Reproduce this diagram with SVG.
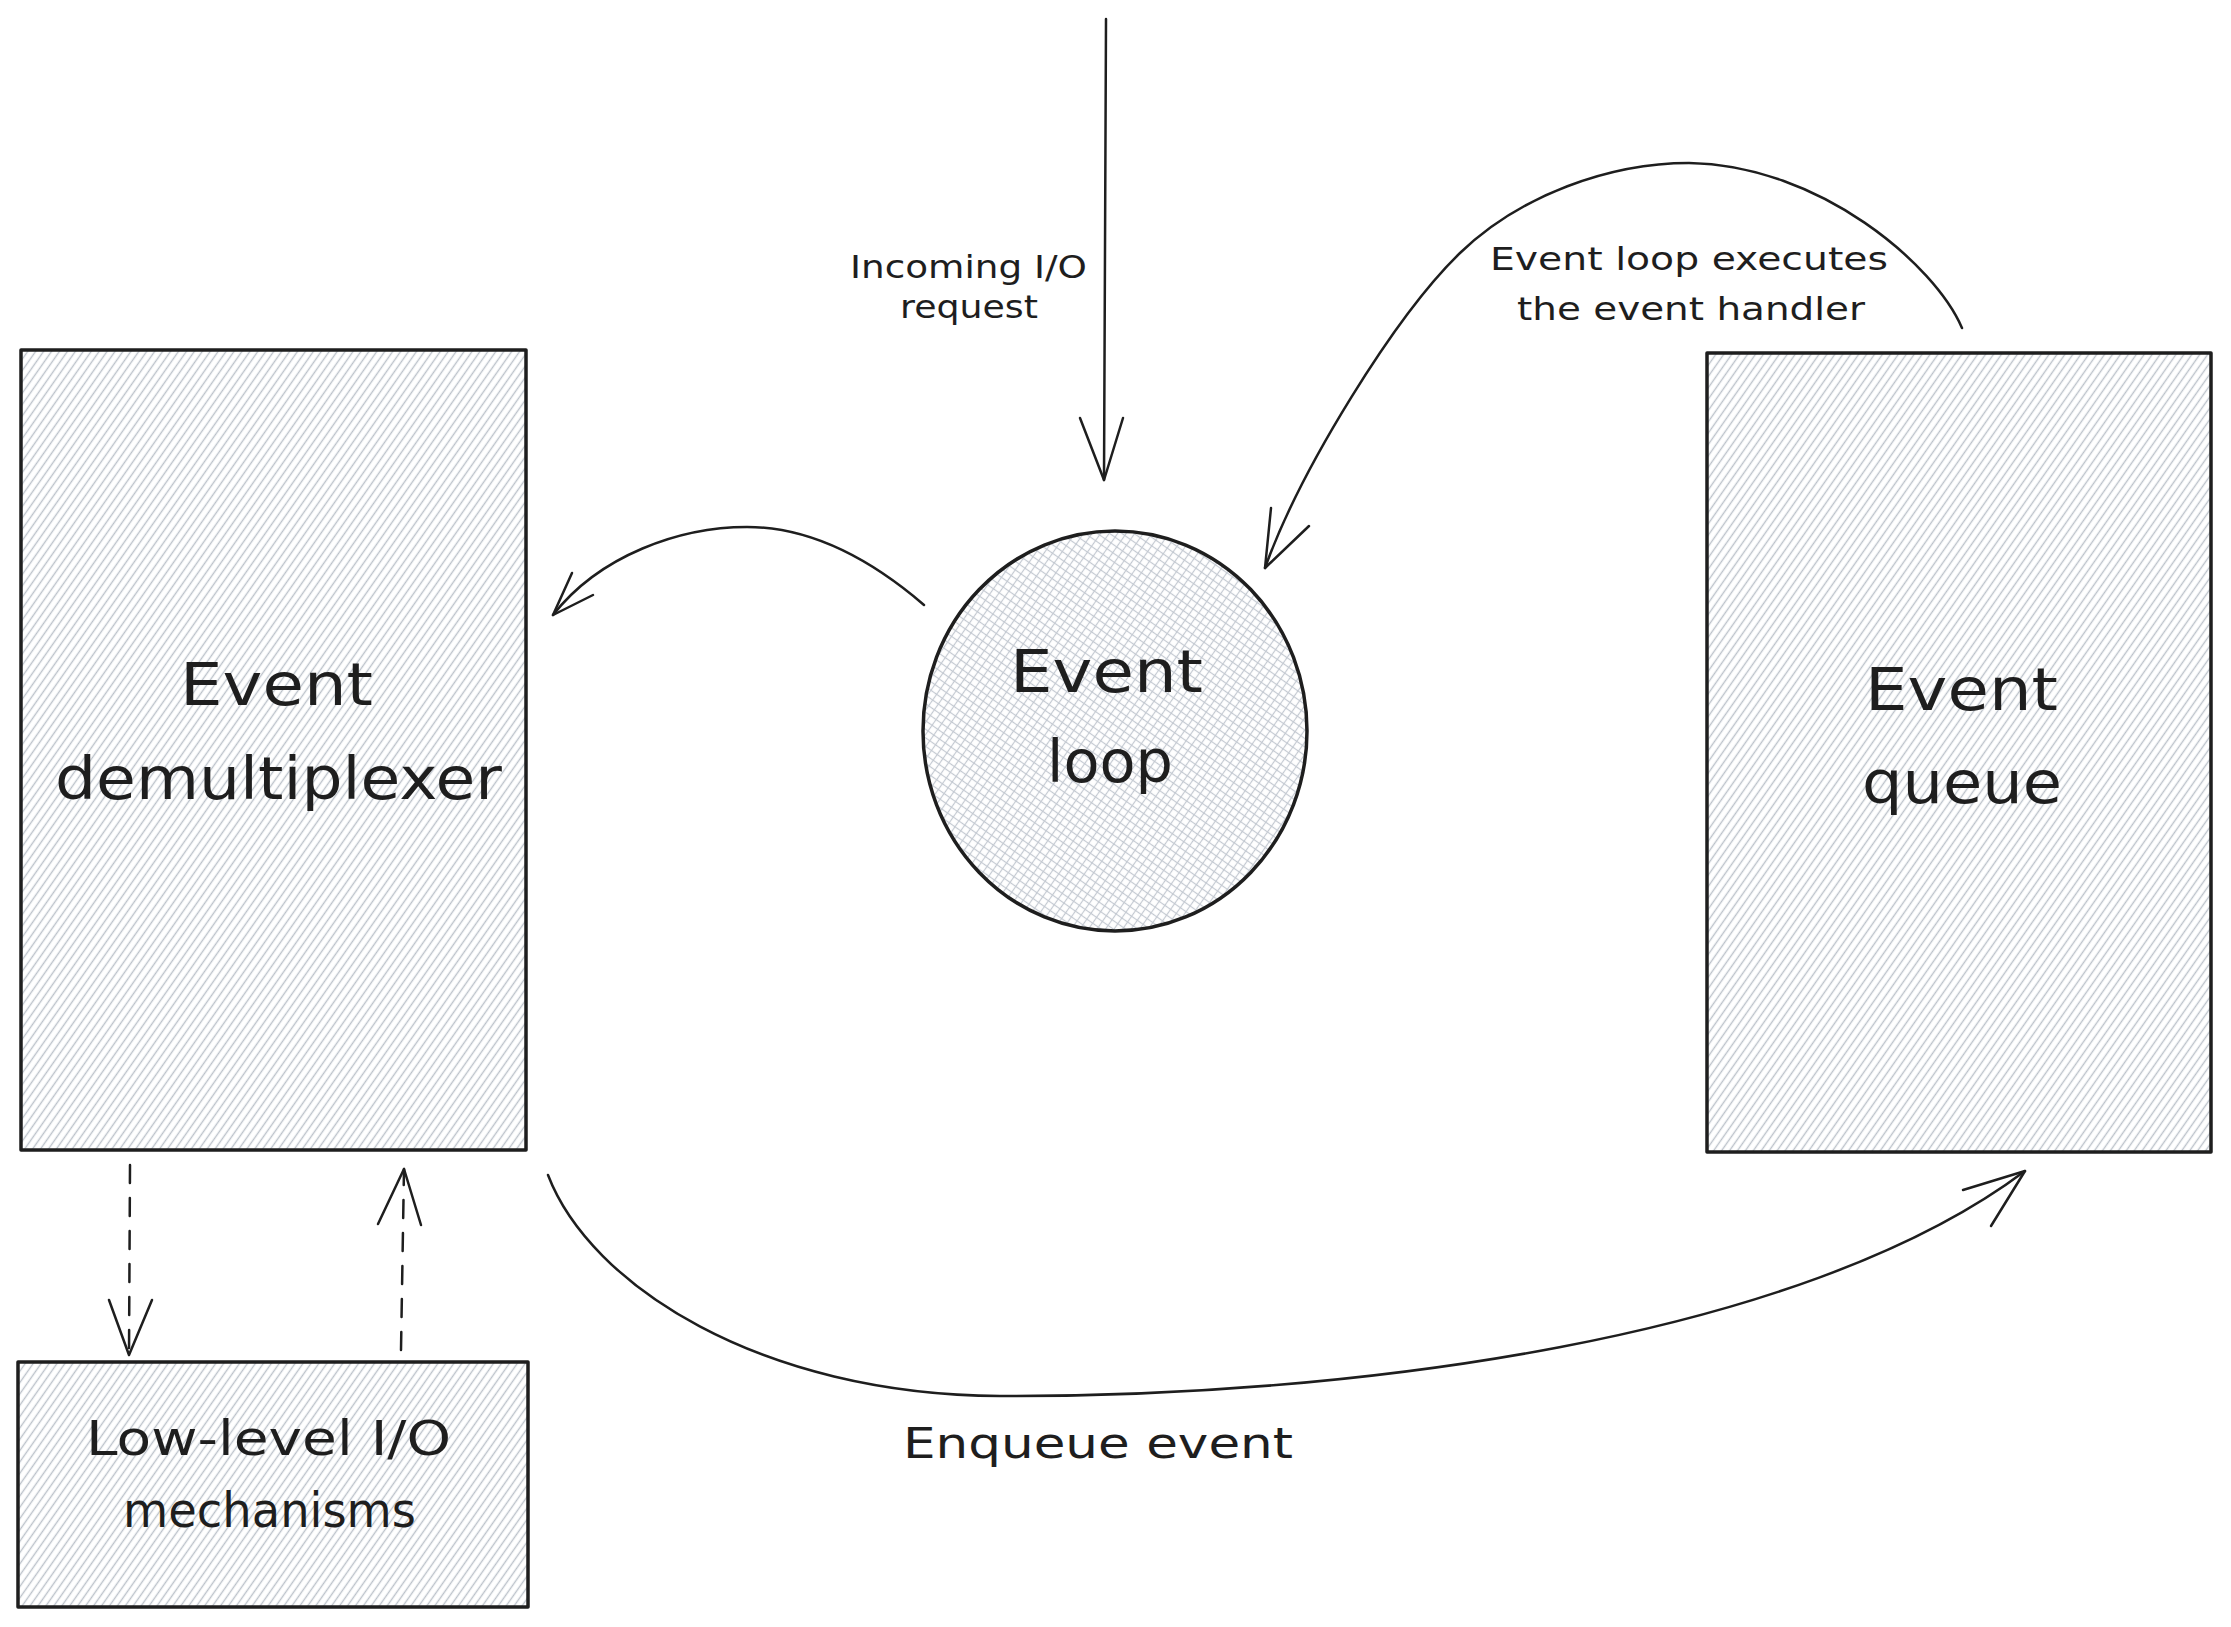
<svg xmlns="http://www.w3.org/2000/svg" width="2231" height="1627" viewBox="0 0 2231 1627">
<defs>
<pattern id="hachure" patternUnits="userSpaceOnUse" width="6.5" height="6.5" patternTransform="rotate(35)">
<line x1="3.25" y1="0" x2="3.25" y2="6.5" stroke="#bcc2ca" stroke-width="1.4"/>
</pattern>
<pattern id="cross" patternUnits="userSpaceOnUse" width="7" height="7" patternTransform="rotate(35)">
<line x1="3.5" y1="0" x2="3.5" y2="7" stroke="#c3c9d1" stroke-width="1.2"/>
<line x1="0" y1="3.5" x2="7" y2="3.5" stroke="#c3c9d1" stroke-width="1.2"/>
</pattern>
<style>
.box{fill:url(#hachure);stroke:#1e1e1e;stroke-width:3.5;stroke-linejoin:round}
.ring{fill:url(#cross);stroke:#1e1e1e;stroke-width:3.5}
.edge{fill:none;stroke:#1e1e1e;stroke-width:2.5;stroke-linecap:round;stroke-linejoin:round}
.dashed{stroke-dasharray:18 15}
.lbl{font-family:"DejaVu Sans","Liberation Sans",sans-serif;fill:#1e1e1e}
.big{font-size:58px}
.mid{font-size:48px}
.sm{font-size:32px}
</style>
</defs>
<rect x="0" y="0" width="2231" height="1627" fill="#ffffff"/>

<g id="node-demultiplexer">
<rect class="box" x="21" y="350" width="505" height="800"/>
<text class="lbl big" x="180" y="705" textLength="193" lengthAdjust="spacingAndGlyphs">Event</text>
<text class="lbl big" x="55" y="799" textLength="447" lengthAdjust="spacingAndGlyphs">demultiplexer</text>
</g>

<g id="node-event-loop">
<ellipse class="ring" cx="1115" cy="731" rx="192" ry="200"/>
<text class="lbl big" x="1010" y="692" textLength="193" lengthAdjust="spacingAndGlyphs">Event</text>
<text class="lbl big" x="1047" y="782" textLength="126" lengthAdjust="spacingAndGlyphs">loop</text>
</g>

<g id="node-event-queue">
<rect class="box" x="1707" y="353" width="504" height="799"/>
<text class="lbl big" x="1865" y="710" textLength="193" lengthAdjust="spacingAndGlyphs">Event</text>
<text class="lbl big" x="1862" y="803" textLength="200" lengthAdjust="spacingAndGlyphs">queue</text>
</g>

<g id="node-low-level-io">
<rect class="box" x="18" y="1362" width="510" height="245"/>
<text class="lbl mid" x="86" y="1455" textLength="365" lengthAdjust="spacingAndGlyphs">Low-level I/O</text>
<text class="lbl mid" x="123" y="1527" textLength="293" lengthAdjust="spacingAndGlyphs">mechanisms</text>
</g>

<g id="connectors">
<g id="edge-incoming">
<path class="edge" d="M1106,19 L1104,480"/>
<path class="edge" d="M1080,418 L1104,480 L1123,418"/>
<text class="lbl sm" x="850" y="278" textLength="237" lengthAdjust="spacingAndGlyphs">Incoming I/O</text>
<text class="lbl sm" x="900" y="318" textLength="138" lengthAdjust="spacingAndGlyphs">request</text>
</g>
<g id="edge-loop-demux">
<path class="edge" d="M924,605 C860,550 800,527 747,527 C680,527 600,555 553,615"/>
<path class="edge" d="M572,573 L553,615 L593,595"/>
</g>
<g id="edge-queue-loop">
<path class="edge" d="M1962,328 C1935,265 1820,165 1689,163 C1610,163 1520,195 1460,253 C1395,316 1300,470 1265,568"/>
<path class="edge" d="M1271,508 L1265,568 L1309,526"/>
<text class="lbl sm" x="1490" y="270" textLength="398" lengthAdjust="spacingAndGlyphs">Event loop executes</text>
<text class="lbl sm" x="1517" y="320" textLength="348" lengthAdjust="spacingAndGlyphs">the event handler</text>
</g>
<g id="edge-demux-queue">
<path class="edge" d="M548,1175 C590,1285 760,1395 1000,1396 C1350,1397 1800,1340 2025,1171"/>
<path class="edge" d="M1963,1190 L2025,1171 L1991,1226"/>
<text class="lbl" style="font-size:42px" x="903" y="1458" textLength="390" lengthAdjust="spacingAndGlyphs">Enqueue event</text>
</g>
<g id="edge-demux-lowlevel">
<path class="edge dashed" d="M130,1165 L129,1355"/>
<path class="edge" d="M109,1300 L129,1355 L152,1300"/>
</g>
<g id="edge-lowlevel-demux">
<path class="edge dashed" d="M401,1350 L404,1169"/>
<path class="edge" d="M378,1224 L404,1169 L421,1225"/>
</g>
</g>
</svg>
